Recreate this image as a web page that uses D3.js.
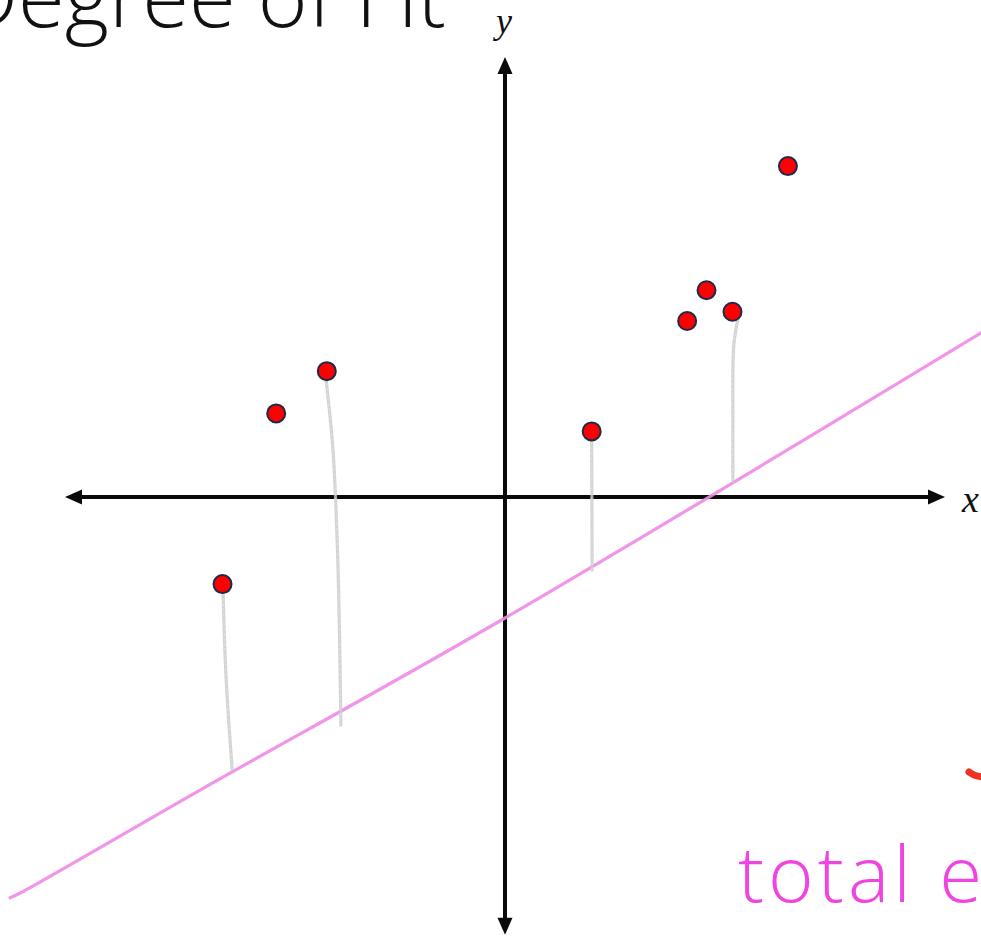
<!DOCTYPE html>
<html>
<head>
<meta charset="utf-8">
<script src="https://cdn.jsdelivr.net/npm/d3@7"></script>
<style>
  html, body { margin: 0; padding: 0; background: #ffffff; }
  svg { display: block; }
</style>
</head>
<body>
<svg id="chart" width="981" height="937"></svg>
<script>
// Observations (x, y) in axis units
const pointX = [-6.42, -5.20, -4.05, 1.97, 4.14, 4.58, 5.17, 6.43];
const pointY = [-1.98, 1.90, 2.86, 1.49, 4.00, 4.70, 4.21, 7.52];

// Hand-drawn fitted line, traced as a sequence of (x, y) vertices
const fitX = [-11.25, -11.02, -6.93, 0.00, 10.82];
const fitY = [-9.11, -9.00, -6.66, -2.75, 3.73];

// Pencil strokes from selected observations down/up to the fitted line
const residualStrokes = [
  [[-6.41, -2.07], [-6.34, -4.09], [-6.20, -6.20]],
  [[-4.07, 2.70], [-3.91, 1.07], [-3.80, -1.43], [-3.73, -5.18]],
  [[1.97, 1.36], [1.98, -1.66]],
  [[5.30, 4.07], [5.20, 3.45], [5.18, 1.75], [5.18, 0.34]]
];

// Axis extents and labels
const axisMin = -10, axisMax = 10;
const axisLabels = ["x", "y"];
const titleText = "Degree of Fit";
const noteText = "total e";

const svg = d3.select("#chart");

const x = d3.scaleLinear().domain([axisMin, axisMax]).range([65, 945]);
const y = d3.scaleLinear().domain([axisMin, axisMax]).range([937, 57]);

// ---- Title ----
const title = svg.append("text")
  .attr("font-family", "'Open Sans', 'Noto Sans', sans-serif")
  .attr("font-weight", 300)
  .attr("fill", "#111")
  .attr("font-size", 80)
  .attr("x", 0)
  .attr("y", 27)
  .text(titleText);
{
  // size so that "egree of Fit" spans the top-left band; the "D" runs off the left edge
  const node = title.node();
  const n = titleText.length;
  const w = node.getSubStringLength(1, n - 1);
  const fs = 80 * 428 / w;
  title.attr("font-size", fs);
  const start1 = node.getStartPositionOfChar(1).x;
  title.attr("x", 18 - start1);
}

// ---- Axes with arrowheads ----
const axisColor = "#0a0a0a";
const arrowLen = 17, arrowHalf = 7.5, axisWidth = 4;
const gAxes = svg.append("g");

function arrowAxis(x1, y1, x2, y2) {
  const dx = x2 - x1, dy = y2 - y1, L = Math.hypot(dx, dy);
  const ux = dx / L, uy = dy / L;
  gAxes.append("line")
    .attr("x1", x1 + ux * (arrowLen - 2)).attr("y1", y1 + uy * (arrowLen - 2))
    .attr("x2", x2 - ux * (arrowLen - 2)).attr("y2", y2 - uy * (arrowLen - 2))
    .attr("stroke", axisColor).attr("stroke-width", axisWidth);
  [[x1, y1, -1], [x2, y2, 1]].forEach(([tx, ty, s]) => {
    const bx = tx - s * ux * arrowLen, by = ty - s * uy * arrowLen;
    const pts = [[tx, ty], [bx - uy * arrowHalf, by + ux * arrowHalf], [bx + uy * arrowHalf, by - ux * arrowHalf]];
    gAxes.append("polygon").attr("points", pts.map(p => p.join(",")).join(" ")).attr("fill", axisColor);
  });
}
arrowAxis(x(axisMin), y(0), x(axisMax), y(0));
arrowAxis(x(0), y(axisMin + 0.05), x(0), y(axisMax));

svg.append("text")
  .attr("font-family", "'Liberation Serif', 'DejaVu Serif', serif")
  .attr("font-style", "italic")
  .attr("font-size", 38)
  .attr("x", x(axisMax) + 17).attr("y", y(0) + 15)
  .attr("fill", "#111")
  .text(axisLabels[0]);
svg.append("text")
  .attr("font-family", "'Liberation Serif', 'DejaVu Serif', serif")
  .attr("font-style", "italic")
  .attr("font-size", 36)
  .attr("text-anchor", "middle")
  .attr("x", x(0) - 1).attr("y", 33)
  .attr("fill", "#111")
  .text(axisLabels[1]);

// ---- Fitted line (pink marker) ----
const lineGen = d3.line().x(d => x(d[0])).y(d => y(d[1])).curve(d3.curveCatmullRom.alpha(0.5));
const fitPts = fitX.map((v, i) => [v, fitY[i]]);
svg.append("path")
  .attr("d", lineGen(fitPts))
  .attr("fill", "none")
  .attr("stroke", "#f08ae6")
  .attr("stroke-width", 3.2)
  .attr("stroke-linecap", "round")
  .attr("opacity", 0.9);

// ---- Residual pencil strokes ----
const gRes = svg.append("g");
residualStrokes.forEach(stroke => {
  gRes.append("path")
    .attr("d", lineGen(stroke))
    .attr("fill", "none")
    .attr("stroke", "#c8c8c8")
    .attr("stroke-width", 3.2)
    .attr("stroke-linecap", "round")
    .attr("opacity", 0.8);
  gRes.append("path")
    .attr("d", lineGen(stroke))
    .attr("fill", "none")
    .attr("stroke", "#e2e2e2")
    .attr("stroke-width", 1.2)
    .attr("stroke-dasharray", "3 2")
    .attr("opacity", 0.8);
});

// ---- Observations ----
svg.append("g").selectAll("circle")
  .data(pointX.map((v, i) => [v, pointY[i]]))
  .join("circle")
  .attr("cx", d => x(d[0]))
  .attr("cy", d => y(d[1]))
  .attr("r", 9)
  .attr("fill", "#ff0000")
  .attr("stroke", "#1c2a4c")
  .attr("stroke-width", 2);

// ---- Handwritten annotation ----
svg.append("text")
  .attr("font-family", "'Open Sans', 'Noto Sans', sans-serif")
  .attr("font-weight", 300)
  .attr("font-size", 78)
  .attr("letter-spacing", 4)
  .attr("fill", "#f044e0")
  .attr("x", 738)
  .attr("y", 902)
  .text(noteText);

// red pen stroke at the right edge
svg.append("path")
  .attr("d", d3.line().curve(d3.curveBasis)([[969, 772], [975, 776], [983, 777]]))
  .attr("fill", "none")
  .attr("stroke", "#ee3322")
  .attr("stroke-width", 7)
  .attr("stroke-linecap", "round");
</script>
</body>
</html>
